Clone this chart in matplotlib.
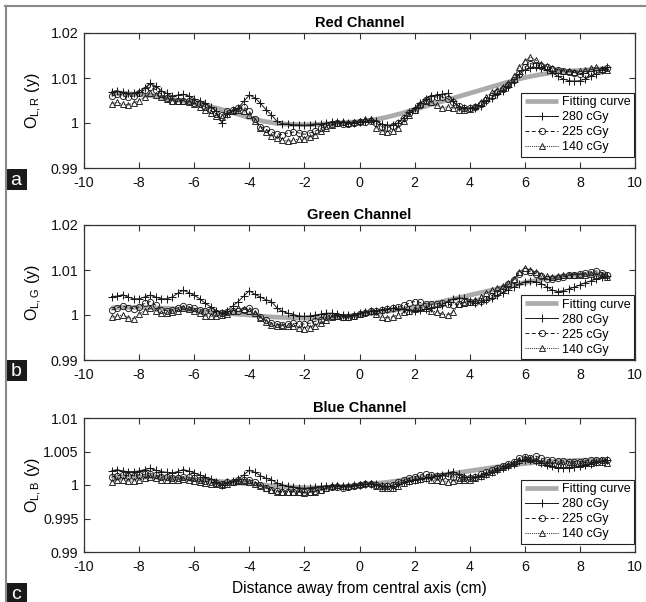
import numpy as np
import matplotlib
matplotlib.use("Agg")
import matplotlib.pyplot as plt
from matplotlib.lines import Line2D
from matplotlib.patches import Rectangle
from matplotlib.ticker import FixedLocator, FuncFormatter

plt.rcParams['font.family'] = ['Liberation Sans', 'DejaVu Sans']
plt.rcParams['mathtext.fontset'] = 'custom'
plt.rcParams['mathtext.rm'] = 'Liberation Sans'
plt.rcParams['mathtext.it'] = 'Liberation Sans:italic'

# measurement positions (cm), sampled every 0.2 cm
x_meas = np.linspace(-9, 9, 91)
# fitting curve positions (cm)
x_fit = np.linspace(-9, 9, 37)

labels = ["Fitting curve", "280 cGy", "225 cGy", "140 cGy"]
titles = ["Red Channel", "Green Channel", "Blue Channel"]
ylabels = [r"O$_{\mathrm{L,R}}$ (y)", r"O$_{\mathrm{L,G}}$ (y)", r"O$_{\mathrm{L,B}}$ (y)"]
panel_letters = ["a", "b", "c"]
xticks = [-10, -8, -6, -4, -2, 0, 2, 4, 6, 8, 10]
yticks_rg = [0.99, 1.0, 1.01, 1.02]
yticks_b = [0.99, 0.995, 1.0, 1.005, 1.01]

# ---- Red channel ----
red_280 = [
    1.0069, 1.0072, 1.0068, 1.0066, 1.0067, 1.0070, 1.0078, 1.0088, 1.0082, 1.0072,
    1.0066, 1.0060, 1.0062, 1.0064, 1.0060, 1.0054, 1.0050, 1.0044, 1.0036, 1.0026,
    1.0000, 1.0020, 1.0028, 1.0034, 1.0048, 1.0062, 1.0056, 1.0044, 1.0030, 1.0018,
    1.0004, 0.9998, 0.9998, 0.9996, 0.9996, 0.9995, 0.9996, 0.9998, 0.9998, 1.0000,
    1.0002, 1.0003, 1.0002, 1.0000, 1.0001, 1.0002, 1.0004, 1.0006, 1.0004, 0.9998,
    0.9995, 0.9996, 1.0000, 1.0012, 1.0024, 1.0034, 1.0044, 1.0054, 1.0060, 1.0062,
    1.0064, 1.0066, 1.0048, 1.0036, 1.0034, 1.0033, 1.0034, 1.0038, 1.0048, 1.0056,
    1.0064, 1.0072, 1.0080, 1.0092, 1.0108, 1.0118, 1.0122, 1.0124, 1.0122, 1.0118,
    1.0112, 1.0104, 1.0098, 1.0094, 1.0093, 1.0094, 1.0098, 1.0104, 1.0110, 1.0118,
    1.0124]
red_225 = [
    1.0060, 1.0064, 1.0060, 1.0058, 1.0060, 1.0066, 1.0074, 1.0080, 1.0074, 1.0064,
    1.0056, 1.0050, 1.0048, 1.0050, 1.0048, 1.0044, 1.0042, 1.0036, 1.0028, 1.0020,
    1.0018, 1.0026, 1.0030, 1.0034, 1.0036, 1.0026, 1.0010, 0.9992, 0.9986, 0.9980,
    0.9976, 0.9974, 0.9978, 0.9980, 0.9978, 0.9975, 0.9978, 0.9982, 0.9988, 0.9994,
    0.9997, 0.9999, 0.9998, 0.9997, 1.0000, 1.0002, 1.0003, 1.0004, 1.0000, 0.9992,
    0.9990, 0.9993, 1.0000, 1.0012, 1.0022, 1.0030, 1.0040, 1.0052, 1.0056, 1.0058,
    1.0058, 1.0054, 1.0046, 1.0038, 1.0034, 1.0034, 1.0036, 1.0042, 1.0052, 1.0060,
    1.0068, 1.0076, 1.0084, 1.0096, 1.0110, 1.0124, 1.0132, 1.0130, 1.0126, 1.0124,
    1.0120, 1.0118, 1.0116, 1.0114, 1.0112, 1.0110, 1.0110, 1.0114, 1.0116, 1.0118,
    1.0122]
red_140 = [
    1.0043, 1.0046, 1.0042, 1.0040, 1.0044, 1.0050, 1.0058, 1.0066, 1.0062, 1.0058,
    1.0054, 1.0050, 1.0048, 1.0050, 1.0046, 1.0042, 1.0036, 1.0030, 1.0022, 1.0016,
    1.0014, 1.0020, 1.0026, 1.0030, 1.0026, 1.0018, 1.0004, 0.9990, 0.9980, 0.9972,
    0.9966, 0.9962, 0.9960, 0.9962, 0.9964, 0.9964, 0.9968, 0.9974, 0.9982, 0.9990,
    0.9996, 0.9999, 1.0002, 1.0000, 1.0002, 1.0005, 1.0008, 1.0010, 0.9990, 0.9982,
    0.9980, 0.9982, 0.9990, 1.0004, 1.0018, 1.0030, 1.0042, 1.0050, 1.0046, 1.0040,
    1.0034, 1.0036, 1.0034, 1.0030, 1.0030, 1.0032, 1.0038, 1.0046, 1.0058, 1.0068,
    1.0074, 1.0080, 1.0088, 1.0104, 1.0124, 1.0138, 1.0146, 1.0140, 1.0132, 1.0126,
    1.0122, 1.0118, 1.0116, 1.0116, 1.0114, 1.0116, 1.0118, 1.0122, 1.0124, 1.0120,
    1.0118]
red_fit = [
    1.0067, 1.0066, 1.0063, 1.0060, 1.0055, 1.0050, 1.0045, 1.0038, 1.0030, 1.0021,
    1.0012, 1.0004, 0.9999, 0.9997, 0.9996, 0.9997, 0.9999, 1.0001, 1.0003, 1.0007,
    1.0013, 1.0021, 1.0030, 1.0039, 1.0048, 1.0057, 1.0066, 1.0075, 1.0084, 1.0093,
    1.0101, 1.0107, 1.0112, 1.0115, 1.0117, 1.0119, 1.0121]

# ---- Green channel ----
green_280 = [
    1.0041, 1.0042, 1.0045, 1.0040, 1.0036, 1.0036, 1.0040, 1.0044, 1.0040, 1.0036,
    1.0036, 1.0040, 1.0048, 1.0055, 1.0050, 1.0044, 1.0036, 1.0026, 1.0018, 1.0010,
    1.0004, 1.0010, 1.0020, 1.0030, 1.0042, 1.0054, 1.0046, 1.0040, 1.0034, 1.0030,
    1.0016, 1.0008, 1.0004, 1.0001, 0.9998, 0.9997, 0.9998, 1.0000, 1.0002, 1.0004,
    1.0004, 1.0002, 1.0000, 0.9999, 1.0001, 1.0004, 1.0006, 1.0008, 1.0010, 1.0012,
    1.0014, 1.0015, 1.0014, 1.0013, 1.0011, 1.0010, 1.0011, 1.0013, 1.0015, 1.0018,
    1.0023, 1.0030, 1.0036, 1.0038, 1.0037, 1.0032, 1.0026, 1.0028, 1.0033, 1.0038,
    1.0044, 1.0050, 1.0056, 1.0062, 1.0068, 1.0074, 1.0075, 1.0074, 1.0070, 1.0063,
    1.0055, 1.0052, 1.0054, 1.0058, 1.0062, 1.0067, 1.0072, 1.0076, 1.0080, 1.0084,
    1.0087]
green_225 = [
    1.0011, 1.0016, 1.0020, 1.0016, 1.0014, 1.0018, 1.0026, 1.0030, 1.0022, 1.0012,
    1.0010, 1.0012, 1.0016, 1.0020, 1.0018, 1.0015, 1.0012, 1.0010, 1.0008, 1.0005,
    1.0004, 1.0006, 1.0010, 1.0008, 1.0012, 1.0016, 1.0008, 0.9996, 0.9988, 0.9982,
    0.9980, 0.9978, 0.9980, 0.9982, 0.9980, 0.9980, 0.9982, 0.9986, 0.9990, 0.9995,
    0.9998, 0.9997, 0.9995, 0.9996, 0.9998, 1.0002, 1.0005, 1.0008, 1.0010, 1.0012,
    1.0013, 1.0016, 1.0018, 1.0022, 1.0026, 1.0030, 1.0028, 1.0025, 1.0024, 1.0025,
    1.0026, 1.0024, 1.0022, 1.0024, 1.0028, 1.0030, 1.0030, 1.0031, 1.0036, 1.0043,
    1.0050, 1.0058, 1.0068, 1.0078, 1.0092, 1.0098, 1.0096, 1.0092, 1.0086, 1.0080,
    1.0080, 1.0082, 1.0085, 1.0088, 1.0090, 1.0092, 1.0094, 1.0096, 1.0098, 1.0094,
    1.0090]
green_140 = [
    0.9995, 0.9998, 1.0000, 0.9994, 0.9992, 1.0002, 1.0010, 1.0015, 1.0010, 1.0005,
    1.0004, 1.0006, 1.0010, 1.0015, 1.0013, 1.0010, 1.0004, 0.9998, 0.9997, 0.9998,
    0.9999, 1.0002, 1.0008, 1.0015, 1.0014, 1.0010, 1.0004, 0.9994, 0.9985, 0.9978,
    0.9976, 0.9976, 0.9975, 0.9975, 0.9972, 0.9970, 0.9972, 0.9975, 0.9982, 0.9990,
    0.9996, 0.9998, 0.9996, 0.9995, 0.9998, 1.0003, 1.0007, 1.0010, 1.0002, 0.9995,
    0.9994, 0.9996, 1.0000, 1.0006, 1.0010, 1.0013, 1.0015, 1.0015, 1.0010, 1.0006,
    1.0002, 1.0000, 1.0006, 1.0025, 1.0027, 1.0028, 1.0034, 1.0040, 1.0048, 1.0055,
    1.0060, 1.0065, 1.0072, 1.0080, 1.0095, 1.0105, 1.0100, 1.0095, 1.0090, 1.0086,
    1.0085, 1.0086, 1.0088, 1.0089, 1.0090, 1.0090, 1.0090, 1.0091, 1.0090, 1.0088,
    1.0085]
green_fit = [
    1.0016, 1.0017, 1.0017, 1.0016, 1.0015, 1.0013, 1.0011, 1.0008, 1.0005, 1.0002,
    1.0000, 0.9997, 0.9995, 0.9994, 0.9993, 0.9994, 0.9995, 0.9997, 1.0000, 1.0004,
    1.0008, 1.0013, 1.0018, 1.0024, 1.0030, 1.0037, 1.0044, 1.0051, 1.0058, 1.0065,
    1.0072, 1.0078, 1.0083, 1.0087, 1.0089, 1.0090, 1.0090]

# ---- Blue channel ----
blue_280 = [
    1.0021, 1.0023, 1.0021, 1.0020, 1.0020, 1.0021, 1.0023, 1.0025, 1.0022, 1.0020,
    1.0019, 1.0018, 1.0020, 1.0023, 1.0021, 1.0018, 1.0015, 1.0012, 1.0009, 1.0005,
    1.0000, 1.0004, 1.0006, 1.0009, 1.0015, 1.0022, 1.0019, 1.0014, 1.0010, 1.0008,
    1.0003, 1.0000, 0.9998, 0.9997, 0.9996, 0.9995, 0.9996, 0.9997, 0.9998, 0.9998,
    0.9999, 0.9999, 0.9999, 0.9999, 1.0000, 1.0000, 1.0001, 1.0002, 1.0001, 0.9999,
    0.9998, 0.9999, 1.0002, 1.0004, 1.0006, 1.0008, 1.0009, 1.0010, 1.0012, 1.0014,
    1.0015, 1.0018, 1.0020, 1.0016, 1.0012, 1.0012, 1.0012, 1.0014, 1.0017, 1.0020,
    1.0022, 1.0025, 1.0028, 1.0032, 1.0036, 1.0038, 1.0038, 1.0036, 1.0033, 1.0030,
    1.0028, 1.0026, 1.0025, 1.0026, 1.0027, 1.0028, 1.0030, 1.0032, 1.0034, 1.0036,
    1.0038]
blue_225 = [
    1.0012, 1.0014, 1.0015, 1.0014, 1.0014, 1.0015, 1.0016, 1.0017, 1.0015, 1.0012,
    1.0012, 1.0011, 1.0011, 1.0012, 1.0012, 1.0010, 1.0008, 1.0006, 1.0004, 1.0003,
    1.0002, 1.0004, 1.0005, 1.0007, 1.0008, 1.0008, 1.0004, 1.0000, 0.9996, 0.9993,
    0.9991, 0.9990, 0.9990, 0.9990, 0.9990, 0.9989, 0.9990, 0.9991, 0.9993, 0.9995,
    0.9997, 0.9997, 0.9996, 0.9997, 0.9998, 1.0000, 1.0001, 1.0001, 1.0000, 0.9998,
    0.9998, 1.0000, 1.0004, 1.0007, 1.0010, 1.0012, 1.0015, 1.0016, 1.0015, 1.0014,
    1.0014, 1.0013, 1.0012, 1.0011, 1.0010, 1.0010, 1.0012, 1.0016, 1.0019, 1.0022,
    1.0025, 1.0028, 1.0031, 1.0035, 1.0040, 1.0042, 1.0041, 1.0043, 1.0040, 1.0038,
    1.0037, 1.0036, 1.0036, 1.0035, 1.0035, 1.0035, 1.0036, 1.0037, 1.0037, 1.0038,
    1.0037]
blue_140 = [
    1.0005, 1.0007, 1.0008, 1.0006, 1.0006, 1.0007, 1.0010, 1.0012, 1.0010, 1.0008,
    1.0007, 1.0007, 1.0008, 1.0009, 1.0008, 1.0006, 1.0005, 1.0003, 1.0002, 1.0001,
    1.0000, 1.0002, 1.0004, 1.0006, 1.0006, 1.0005, 1.0002, 0.9998, 0.9995, 0.9992,
    0.9990, 0.9990, 0.9990, 0.9990, 0.9989, 0.9988, 0.9989, 0.9990, 0.9992, 0.9995,
    0.9998, 1.0000, 0.9999, 0.9998, 1.0000, 1.0002, 1.0003, 1.0003, 0.9998, 0.9995,
    0.9995, 0.9996, 0.9999, 1.0003, 1.0006, 1.0008, 1.0009, 1.0010, 1.0008, 1.0007,
    1.0006, 1.0005, 1.0006, 1.0007, 1.0007, 1.0008, 1.0010, 1.0013, 1.0016, 1.0020,
    1.0024, 1.0027, 1.0030, 1.0033, 1.0037, 1.0040, 1.0039, 1.0038, 1.0035, 1.0033,
    1.0032, 1.0032, 1.0032, 1.0032, 1.0032, 1.0032, 1.0033, 1.0033, 1.0034, 1.0034,
    1.0033]
blue_fit = [
    1.0012, 1.0012, 1.0012, 1.0012, 1.0011, 1.0010, 1.0008, 1.0007, 1.0005, 1.0003,
    1.0002, 1.0000, 0.9998, 0.9997, 0.9996, 0.9996, 0.9997, 0.9998, 1.0000, 1.0002,
    1.0004, 1.0007, 1.0010, 1.0012, 1.0015, 1.0018, 1.0021, 1.0024, 1.0027, 1.0030,
    1.0032, 1.0034, 1.0035, 1.0036, 1.0037, 1.0037, 1.0038]

channels = [
    (red_fit, red_280, red_225, red_140, yticks_rg),
    (green_fit, green_280, green_225, green_140, yticks_rg),
    (blue_fit, blue_280, blue_225, blue_140, yticks_b),
]

W, H = 646, 602
fig = plt.figure(figsize=(W / 100, H / 100), dpi=100)

def fx(px):
    return px / W

def fy(py):
    return 1 - py / H

# axes boxes in pixels: left, top, right, bottom
boxes = [(84, 33, 635, 168), (84, 225, 635, 360), (84, 418, 635, 552)]
legend_anchor_y = [11 / 135, 0.004, 8 / 134]
letter_boxes = [(169, 190), (360, 381), (583, 604)]

ink = "#1a1a1a"
fit_color = "#ababab"

for i, (fit, s280, s225, s140, yt) in enumerate(channels):
    l, t, r, b = boxes[i]
    ax = fig.add_axes([fx(l), fy(b), fx(r) - fx(l), fy(t) - fy(b)])
    ax.plot(x_fit, fit, color=fit_color, lw=3.4, solid_capstyle="butt",
            label=labels[0], zorder=1)
    ax.plot(x_meas, s280, color=ink, lw=0.7, ls="-", marker="+", ms=6,
            mew=0.75, label=labels[1], zorder=3)
    ax.plot(x_meas, s225, color=ink, lw=0.7, ls=(0, (4, 2.5)), marker="o",
            ms=4.5, mew=0.65, mfc="none", label=labels[2], zorder=3)
    ax.plot(x_meas, s140, color=ink, lw=0.7, ls=(0, (1, 1.2)), marker="^",
            ms=4.5, mew=0.65, mfc="none", label=labels[3], zorder=3)

    ax.set_xlim(-10, 10)
    ax.set_ylim(yt[0], yt[-1])
    ax.xaxis.set_major_locator(FixedLocator(xticks))
    ax.yaxis.set_major_locator(FixedLocator(yt))
    ax.yaxis.set_major_formatter(FuncFormatter(lambda v, p: f"{v:g}"))
    ax.xaxis.set_major_formatter(FuncFormatter(lambda v, p: f"{v:g}"))
    ax.tick_params(direction="in", top=True, right=True, length=4, width=0.8,
                   labelsize=10.3, color="#333333", labelcolor="#111111")
    ax.tick_params(axis="x", pad=5.5)
    ax.tick_params(axis="y", pad=4)
    for sp in ax.spines.values():
        sp.set_color("#333333")
        sp.set_linewidth(0.9)

    ax.set_title(titles[i], fontsize=10.5, fontweight="bold", pad=4)
    ax.set_ylabel(ylabels[i], fontsize=11.5)
    ax.yaxis.set_label_coords(-0.072, 0.5)

    leg = ax.legend(loc="lower right", bbox_to_anchor=(0.998, legend_anchor_y[i]),
                    borderaxespad=0, fontsize=9, handlelength=2.7,
                    handletextpad=0.25, labelspacing=0.24, borderpad=0.3,
                    fancybox=False, framealpha=1, edgecolor="#222222",
                    numpoints=1)
    leg.get_frame().set_linewidth(0.8)
    leg.set_zorder(5)

    if i == 2:
        ax.set_xlabel("Distance away from central axis (cm)", fontsize=11.2,
                      labelpad=5)

    # panel letter in a dark box
    y0, y1 = letter_boxes[i]
    fig.add_artist(Rectangle((fx(5), fy(y1)), fx(27) - fx(5), fy(y0) - fy(y1),
                             transform=fig.transFigure, facecolor=ink,
                             edgecolor="none"))
    fig.text(fx(16), fy((y0 + y1) / 2 + 1), panel_letters[i], color="white",
             fontsize=14, ha="center", va="center")

# thin gray frame along the top and left edges
fig.add_artist(Line2D([fx(5), 1], [fy(6), fy(6)], transform=fig.transFigure,
                      color="#8a8a8a", lw=1.5))
fig.add_artist(Line2D([fx(5.5), fx(5.5)], [0, fy(6)], transform=fig.transFigure,
                      color="#8a8a8a", lw=1.5))

fig.savefig("out.png", dpi=100)
